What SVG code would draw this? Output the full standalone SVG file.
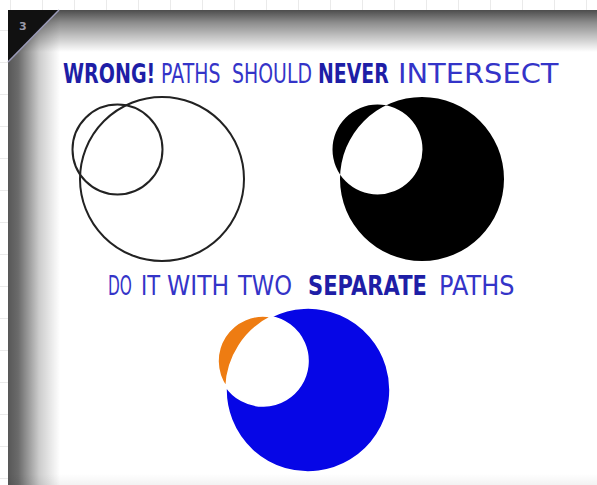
<svg xmlns="http://www.w3.org/2000/svg" width="597" height="485" viewBox="0 0 597 485">
  <defs>
    <linearGradient id="gTop" x1="0" y1="10" x2="0" y2="52" gradientUnits="userSpaceOnUse">
      <stop offset="0" stop-color="#000" stop-opacity="0.7"/>
      <stop offset="0.3" stop-color="#000" stop-opacity="0.45"/>
      <stop offset="1" stop-color="#000" stop-opacity="0"/>
    </linearGradient>
    <linearGradient id="gLeft" x1="8" y1="0" x2="60" y2="0" gradientUnits="userSpaceOnUse">
      <stop offset="0" stop-color="#000" stop-opacity="0.66"/>
      <stop offset="0.2" stop-color="#000" stop-opacity="0.58"/>
      <stop offset="0.6" stop-color="#000" stop-opacity="0.2"/>
      <stop offset="1" stop-color="#000" stop-opacity="0"/>
    </linearGradient>
    <linearGradient id="gBottom" x1="0" y1="474" x2="0" y2="485" gradientUnits="userSpaceOnUse">
      <stop offset="0" stop-color="#000" stop-opacity="0"/>
      <stop offset="1" stop-color="#000" stop-opacity="0.05"/>
    </linearGradient>
    <pattern id="grid" x="10" y="30" width="32" height="32" patternUnits="userSpaceOnUse">
      <path d="M0,0 H32 M0,0 V32" fill="none" stroke="#e4e4e4" stroke-width="1.5"/>
    </pattern>
  </defs>
  <style>
    .t { font-family: "DejaVu Sans", "Liberation Sans", sans-serif; font-size: 27px; fill: #3434c8; }
    .b { font-weight: bold; fill: #1e1ea6; }
    .ring { fill: none; stroke: #222; stroke-width: 2; }
    .part { stroke: #fff; stroke-width: 1.6; stroke-linejoin: miter; }
  </style>

  <rect width="597" height="485" fill="#fff"/>
  <rect width="597" height="485" fill="url(#grid)"/>

  <g id="panel">
    <rect x="8" y="10" width="589" height="475" fill="#fff"/>
    <rect x="8" y="10" width="589" height="45" fill="url(#gTop)"/>
    <rect x="8" y="10" width="55" height="475" fill="url(#gLeft)"/>
    <rect x="8" y="474" width="589" height="11" fill="url(#gBottom)"/>
    <polygon points="8,10 59,10 8,62" fill="#111"/>
    <line x1="59" y1="10" x2="8" y2="62" stroke="#9a9ab8" stroke-width="1.5"/>
    <text x="19" y="30" style="font-family:'DejaVu Sans',sans-serif;font-size:11px;font-weight:bold;fill:#9a9aa8">3</text>
  </g>

  <g id="title">
    <text class="t b" transform="translate(63,83) scale(0.707,1)">WRONG!</text>
    <text class="t" transform="translate(161,83) scale(0.70,1)">PATHS</text>
    <text class="t" transform="translate(232,83) scale(0.70,1)">SHOULD</text>
    <text class="t b" transform="translate(318,83) scale(0.70,1)">NEVER</text>
    <text class="t" transform="translate(398,83) scale(1.07,1)">INTERSECT</text>
  </g>

  <g id="wrong-outlines">
    <circle class="ring" cx="162" cy="179" r="82"/>
    <circle class="ring" cx="117.5" cy="149.5" r="45"/>
  </g>

  <g id="wrong-filled">
    <path fill="#000" fill-rule="evenodd" d="M340,179 a82,82 0 1,0 164,0 a82,82 0 1,0 -164,0 Z M332.5,149.5 a45,45 0 1,0 90,0 a45,45 0 1,0 -90,0 Z"/>
  </g>

  <g id="subtitle">
    <text class="t" transform="translate(108,295) scale(0.57,1)">DO</text>
    <text class="t" transform="translate(141,295) scale(0.78,1)">IT</text>
    <text class="t" transform="translate(167,295) scale(0.87,1)">WITH</text>
    <text class="t" transform="translate(238,295) scale(0.84,1)">TWO</text>
    <text class="t b" transform="translate(308,295) scale(0.78,1)">SEPARATE</text>
    <text class="t" transform="translate(439,295) scale(0.89,1)">PATHS</text>
  </g>

  <g id="right-separate">
    <path id="blue-part" class="part" fill="#0606e6" d="M271.17,316.75 A82,82 0 1 1 226.07,386.71 A45,45 0 1 0 271.17,316.75 Z"/>
    <path id="orange-part" class="part" fill="#ee7c12" d="M271.17,316.75 A45,45 0 0 0 226.07,386.71 A82,82 0 0 1 271.17,316.75 Z"/>
  </g>
</svg>
